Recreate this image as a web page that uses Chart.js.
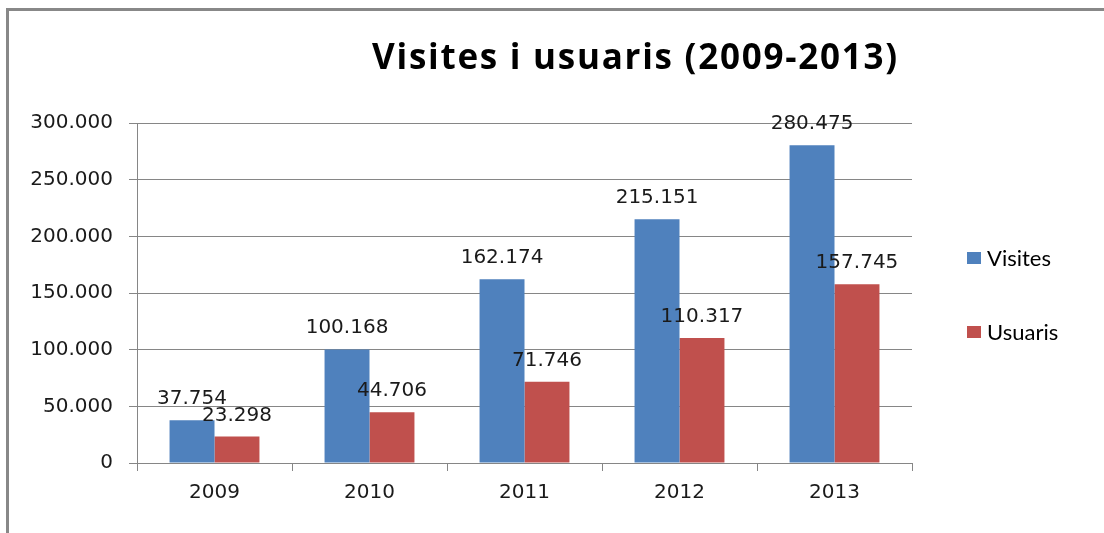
<!DOCTYPE html>
<html>
<head>
<meta charset="utf-8">
<script src="https://cdn.jsdelivr.net/npm/chart.js@4/dist/chart.umd.min.js"></script>
<style>
  html, body { margin: 0; padding: 0; background: #fff; }
  #wrap { position: relative; width: 1104px; height: 533px; overflow: hidden; }
  #frame { position: absolute; left: 6px; top: 8px; width: 1200px; height: 600px;
           border-left: 3px solid #888; border-top: 3px solid #888; }
  canvas { position: absolute; left: 0; top: 0; }
</style>
</head>
<body>
<div id="wrap">
  <div id="frame"></div>
  <canvas id="barChart" width="1104" height="533"></canvas>
</div>
<script>
const years = ["2009", "2010", "2011", "2012", "2013"];
const visites = [37754, 100168, 162174, 215151, 280475];
const usuaris = [23298, 44706, 71746, 110317, 157745];
const chartTitle = "Visites i usuaris (2009-2013)";

const fmt = (v) => String(v).replace(/\B(?=(\d{3})+(?!\d))/g, ".");

// value labels above each bar
const valueLabels = {
  id: "valueLabels",
  afterDatasetsDraw(chart) {
    const ctx = chart.ctx;
    ctx.save();
    ctx.font = "20px 'DejaVu Sans'";
    ctx.fillStyle = "#1a1a1a";
    ctx.textAlign = "center";
    ctx.textBaseline = "alphabetic";
    chart.data.datasets.forEach((ds, i) => {
      chart.getDatasetMeta(i).data.forEach((bar, j) => {
        ctx.fillText(fmt(ds.data[j]), bar.x, bar.y - 16);
      });
    });
    ctx.restore();
  },
};

// title + legend on the right
const decorations = {
  id: "decorations",
  afterDraw(chart) {
    const ctx = chart.ctx;
    ctx.save();
    ctx.font = "bold 35px 'Open Sans'";
    ctx.fillStyle = "#000";
    ctx.textAlign = "left";
    ctx.textBaseline = "alphabetic";
    // spread title to the width it has in the original
    const w = ctx.measureText(chartTitle).width;
    const sp = Math.max(0, (525 - w) / (chartTitle.length - 1));
    ctx.letterSpacing = sp + "px";
    ctx.fillText(chartTitle, 372, 69);
    ctx.letterSpacing = "0px";

    ctx.font = "22px Lato";
    ctx.textBaseline = "middle";
    chart.data.datasets.forEach((ds, i) => {
      const y = 258 + i * 74;
      ctx.fillStyle = ds.backgroundColor;
      ctx.fillRect(967, y - 6, 14, 12);
      ctx.fillStyle = "#000";
      ctx.fillText(ds.label, 987, y + 1);
    });
    ctx.restore();
  },
};

const ctx = document.getElementById("barChart").getContext("2d");
new Chart(ctx, {
  type: "bar",
  data: {
    labels: years,
    datasets: [
      {
        label: "Visites",
        data: visites,
        backgroundColor: "#4F81BD",
        categoryPercentage: 0.58,
        barPercentage: 1,
      },
      {
        label: "Usuaris",
        data: usuaris,
        backgroundColor: "#C0504D",
        categoryPercentage: 0.58,
        barPercentage: 1,
      },
    ],
  },
  options: {
    responsive: false,
    animation: false,
    layout: {
      padding: { top: 123, bottom: 0, left: 10, right: 192 },
    },
    plugins: {
      legend: { display: false },
      tooltip: { enabled: false },
    },
    scales: {
      x: {
        grid: {
          drawOnChartArea: false,
          color: "#868686",
          tickLength: 8,
        },
        border: { color: "#868686" },
        ticks: {
          color: "#1a1a1a",
          font: { family: "DejaVu Sans", size: 20 },
          padding: 10,
        },
        afterFit: (scale) => { scale.height = 70; },
      },
      y: {
        min: 0,
        max: 300000,
        grid: { color: "#868686", tickLength: 8 },
        border: { color: "#868686" },
        ticks: {
          stepSize: 50000,
          color: "#1a1a1a",
          font: { family: "DejaVu Sans", size: 20 },
          padding: 16,
          callback: (v) => fmt(v),
        },
        afterFit: (scale) => { scale.width = 127; },
      },
    },
  },
  plugins: [valueLabels, decorations],
});
</script>
</body>
</html>
